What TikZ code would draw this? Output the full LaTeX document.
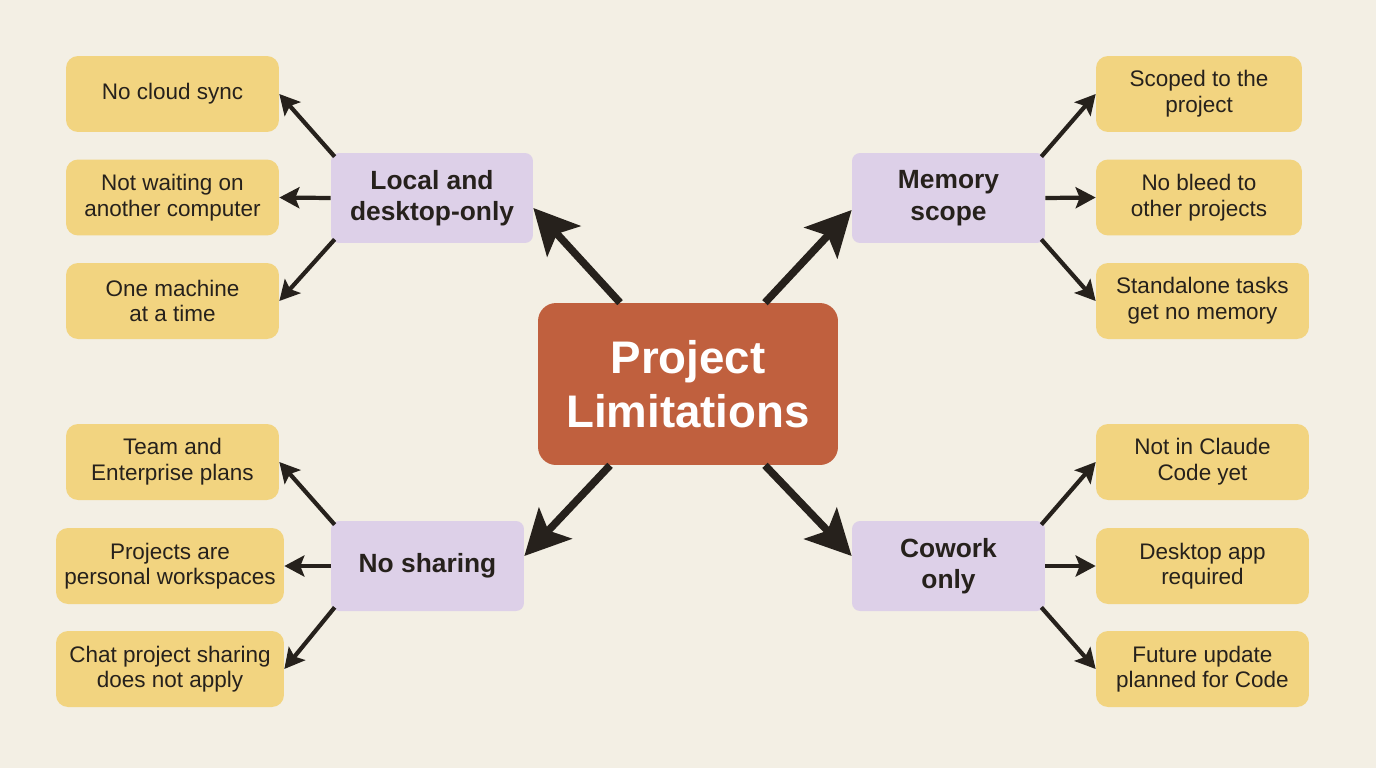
\documentclass[tikz,border=0pt]{standalone}
\usepackage{fontspec}
\setmainfont{Liberation Sans}
\usetikzlibrary{arrows.meta, positioning}
\definecolor{myBg}{RGB}{243,239,228}
\definecolor{myRust}{RGB}{192,96,62}
\definecolor{myLilac}{RGB}{221,208,232}
\definecolor{myGold}{RGB}{242,212,128}
\definecolor{myInk}{RGB}{38,33,28}

\begin{document}
\begin{tikzpicture}[x=0.02cm, y=-0.02cm,
	hub/.style={rectangle, rounded corners=0.36cm, fill=myRust, text=white, font=\fontsize{26}{30.6}\selectfont\bfseries, align=center, minimum width=6cm, minimum height=3.24cm},
	branch/.style={rectangle, rounded corners=0.16cm, fill=myLilac, text=myInk, font=\fontsize{15}{18}\selectfont\bfseries, align=center, minimum width=3.86cm, minimum height=1.8cm},
	leaf/.style={rectangle, rounded corners=0.24cm, fill=myGold, text=myInk, font=\fontsize{12.8}{14.6}\selectfont, align=center, minimum width=4.26cm, minimum height=1.52cm},
	bigarrow/.style={-{Stealth[length=9mm, width=9mm, inset=2mm]}, line width=4.3pt, myInk},
	smallarrow/.style={-{Stealth[length=4mm, width=4.2mm, inset=0.8mm]}, line width=2.4pt, myInk}]
			% Background
			\fill[myBg] (0,0) rectangle (1376,768);
			\useasboundingbox (0,0) rectangle (1376,768);
			% Center
			\node[hub] (hub) at (688,384) {Project\\Limitations};
			% Branches
			\node[branch, minimum width=4.04cm] (local) at (432,198) {Local and\\desktop-only};
			\node[branch] (memory) at (948.5,198) {Memory\\scope};
			\node[branch] (sharing) at (427.5,566) {No sharing};
			\node[branch] (cowork) at (948.5,566) {Cowork\\only};
			% Leaves, left
			\node[leaf] (cloud) at (172.5,94) {No cloud sync};
			\node[leaf] (waiting) at (172.5,197.5) {Not waiting on\\another computer};
			\node[leaf] (onemach) at (172.5,301) {One machine\\at a time};
			\node[leaf] (team) at (172.5,462) {Team and\\Enterprise plans};
			\node[leaf, minimum width=4.56cm] (personal) at (170,566) {Projects are\\personal workspaces};
			\node[leaf, minimum width=4.56cm] (chatshare) at (170,669) {Chat project sharing\\does not apply};
			% Leaves, right
			\node[leaf, minimum width=4.12cm] (scoped) at (1199,94) {Scoped to the\\project};
			\node[leaf, minimum width=4.12cm] (bleed) at (1199,197.5) {No bleed to\\other projects};
			\node[leaf] (standalone) at (1202.5,301) {Standalone tasks\\get no memory};
			\node[leaf] (claude) at (1202.5,462) {Not in Claude\\Code yet};
			\node[leaf] (desktop) at (1202.5,566) {Desktop app\\required};
			\node[leaf] (future) at (1202.5,669) {Future update\\planned for Code};
			% Hub to branches
			\draw[bigarrow] ([xshift=-1.36cm]hub.north) -- ([yshift=-0.2cm]local.east);
			\draw[bigarrow] ([xshift=1.54cm]hub.north) -- ([yshift=-0.24cm]memory.west);
			\draw[bigarrow] ([xshift=-1.56cm]hub.south) -- ([yshift=0.2cm]sharing.east);
			\draw[bigarrow] ([xshift=1.54cm]hub.south) -- ([yshift=0.2cm]cowork.west);
			% Branches to leaves
			\draw[smallarrow] ([shift={(0.08cm,-0.08cm)}]local.north west) -- (cloud.east);
			\draw[smallarrow] (local.west) -- (waiting.east);
			\draw[smallarrow] ([shift={(0.08cm,0.08cm)}]local.south west) -- (onemach.east);
			\draw[smallarrow] ([shift={(-0.08cm,-0.08cm)}]memory.north east) -- (scoped.west);
			\draw[smallarrow] (memory.east) -- (bleed.west);
			\draw[smallarrow] ([shift={(-0.08cm,0.08cm)}]memory.south east) -- (standalone.west);
			\draw[smallarrow] ([shift={(0.08cm,-0.08cm)}]sharing.north west) -- (team.east);
			\draw[smallarrow] (sharing.west) -- (personal.east);
			\draw[smallarrow] ([shift={(0.08cm,0.08cm)}]sharing.south west) -- (chatshare.east);
			\draw[smallarrow] ([shift={(-0.08cm,-0.08cm)}]cowork.north east) -- (claude.west);
			\draw[smallarrow] (cowork.east) -- (desktop.west);
			\draw[smallarrow] ([shift={(-0.08cm,0.08cm)}]cowork.south east) -- (future.west);
\end{tikzpicture}
\end{document}
